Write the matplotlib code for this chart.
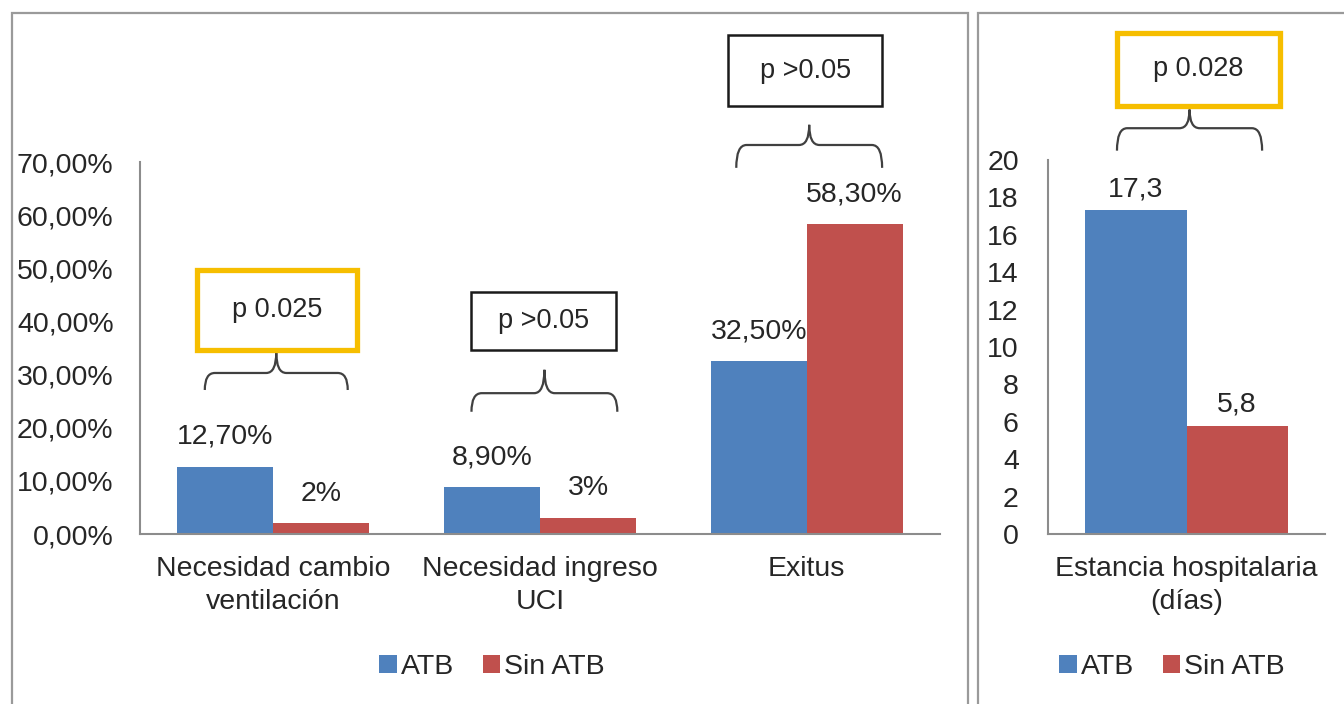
import matplotlib.pyplot as plt
from matplotlib.patches import Rectangle, PathPatch
from matplotlib.path import Path
from matplotlib.ticker import FuncFormatter
import numpy as np

plt.rcParams['font.family'] = ['Liberation Sans', 'DejaVu Sans']

# ---- data ----
categories = ["Necesidad cambio\nventilación", "Necesidad ingreso\nUCI", "Exitus"]
atb = [12.7, 8.9, 32.5]
sin_atb = [2, 3, 58.3]
atb_labels = ["12,70%", "8,90%", "32,50%"]
sin_labels = ["2%", "3%", "58,30%"]

cat_right = ["Estancia hospitalaria\n(días)"]
atb_right = [17.3]
sin_right = [5.8]
atb_right_labels = ["17,3"]
sin_right_labels = ["5,8"]

pvals = ["p 0.025", "p >0.05", "p >0.05"]
pval_right = "p 0.028"

blue = "#4F81BD"
red = "#C0504D"
gold = "#F6BE00"
axis_grey = "#8C8C8C"
txt = "#262626"
fs = 20.5

fig = plt.figure(figsize=(13.44, 7.04), dpi=100)

# panel frames
fig.patches.append(Rectangle((12/1344, -0.05), 956/1344, 1.05 - 13/704, transform=fig.transFigure,
                             fill=False, ec="#9A9A9A", lw=1.6))
fig.patches.append(Rectangle((978/1344, -0.05), 380/1344, 1.05 - 13/704, transform=fig.transFigure,
                             fill=False, ec="#9A9A9A", lw=1.6))


def style_axes(ax):
    for s in ["top", "right"]:
        ax.spines[s].set_visible(False)
    ax.spines["left"].set_color(axis_grey)
    ax.spines["bottom"].set_color(axis_grey)
    ax.spines["left"].set_linewidth(1.5)
    ax.spines["bottom"].set_linewidth(1.5)
    ax.tick_params(axis="both", length=0, labelsize=fs, colors=txt)
    ax.tick_params(axis="y", pad=19)
    ax.tick_params(axis="x", pad=16)
    for t in ax.get_xticklabels():
        t.set_linespacing(1.35)


def brace(ax, x0, x1, y_end, y_mid, y_tip):
    xc = (x0 + x1) / 2
    r = (x1 - x0) * 0.07
    verts = [(x0, y_end), (x0, y_mid), (x0 + r, y_mid),
             (xc - r, y_mid), (xc, y_mid), (xc, y_tip),
             (xc, y_mid), (xc + r, y_mid),
             (x1 - r, y_mid), (x1, y_mid), (x1, y_end)]
    codes = [Path.MOVETO, Path.CURVE3, Path.CURVE3,
             Path.LINETO, Path.CURVE3, Path.CURVE3,
             Path.CURVE3, Path.CURVE3,
             Path.LINETO, Path.CURVE3, Path.CURVE3]
    ax.add_patch(PathPatch(Path(verts, codes), fill=False, ec="#404040", lw=1.6, clip_on=False))


def pbox(ax, x0, x1, y0, y1, text, color, lw):
    ax.add_patch(Rectangle((x0, y0), x1 - x0, y1 - y0, fill=False, ec=color, lw=lw, clip_on=False))
    ax.text((x0 + x1) / 2, (y0 + y1) / 2, text, ha="center", va="center", fontsize=19.5, color=txt)


# ---- left chart ----
ax = fig.add_axes([140/1344, 1 - 534/704, 800/1344, 372/704])
x = np.arange(len(categories))
w = 0.36
b1 = ax.bar(x - w/2, atb, w, color=blue, label="ATB")
b2 = ax.bar(x + w/2, sin_atb, w, color=red, label="Sin ATB")
for rect, lab in zip(b1, atb_labels):
    ax.annotate(lab, (rect.get_x() + rect.get_width()/2, rect.get_height()), xytext=(0, 12),
                textcoords="offset points", ha="center", va="bottom", fontsize=fs, color=txt)
for rect, lab in zip(b2, sin_labels):
    ax.annotate(lab, (rect.get_x() + rect.get_width()/2, rect.get_height()), xytext=(0, 12),
                textcoords="offset points", ha="center", va="bottom", fontsize=fs, color=txt)
ax.set_xlim(-0.5, 2.5)
ax.set_ylim(0, 70)
ax.set_yticks(np.arange(0, 71, 10))
ax.yaxis.set_major_formatter(FuncFormatter(lambda v, p: f"{v:.2f}%".replace(".", ",")))
ax.set_xticks(x)
ax.set_xticklabels(categories)
style_axes(ax)

brace(ax, -0.257, 0.279, 27.1, 30.3, 34.2)
pbox(ax, -0.287, 0.313, 34.6, 49.7, pvals[0], gold, 3.8)
brace(ax, 0.743, 1.29, 23.0, 26.5, 30.9)
pbox(ax, 0.743, 1.286, 34.6, 45.5, pvals[1], "#1A1A1A", 1.8)
brace(ax, 1.736, 2.283, 68.9, 73.2, 77.0)
pbox(ax, 1.706, 2.283, 80.5, 93.9, pvals[2], "#1A1A1A", 1.8)

ax.legend(loc="center", bbox_to_anchor=(492/1344, 1 - 667/704), bbox_transform=fig.transFigure,
          ncol=2, frameon=False, fontsize=fs, handlelength=0.6, handleheight=0.6,
          handletextpad=0.15, columnspacing=1.0, labelcolor=txt)

# ---- right chart ----
ax2 = fig.add_axes([1048/1344, 1 - 534/704, 277/1344, 374/704])
xr = np.arange(len(cat_right))
wr = 0.365
r1 = ax2.bar(xr - wr/2, atb_right, wr, color=blue, label="ATB")
r2 = ax2.bar(xr + wr/2, sin_right, wr, color=red, label="Sin ATB")
for rect, lab in zip(r1, atb_right_labels):
    ax2.annotate(lab, (rect.get_x() + rect.get_width()/2, rect.get_height()), xytext=(0, 6),
                 textcoords="offset points", ha="center", va="bottom", fontsize=fs, color=txt)
for rect, lab in zip(r2, sin_right_labels):
    ax2.annotate(lab, (rect.get_x() + rect.get_width()/2, rect.get_height()), xytext=(0, 6),
                 textcoords="offset points", ha="center", va="bottom", fontsize=fs, color=txt)
ax2.set_xlim(-0.5, 0.5)
ax2.set_ylim(0, 20)
ax2.set_yticks(np.arange(0, 21, 2))
ax2.set_xticks(xr)
ax2.set_xticklabels(cat_right)
style_axes(ax2)
ax2.tick_params(axis="y", pad=21)

brace(ax2, -0.251, 0.273, 20.5, 21.7, 22.7)
pbox(ax2, -0.251, 0.338, 22.9, 26.8, pval_right, gold, 3.8)

ax2.legend(loc="center", bbox_to_anchor=(1172/1344, 1 - 667/704), bbox_transform=fig.transFigure,
           ncol=2, frameon=False, fontsize=fs, handlelength=0.6, handleheight=0.6,
           handletextpad=0.15, columnspacing=1.0, labelcolor=txt)

fig.savefig("out.png", dpi=100, facecolor="white")
